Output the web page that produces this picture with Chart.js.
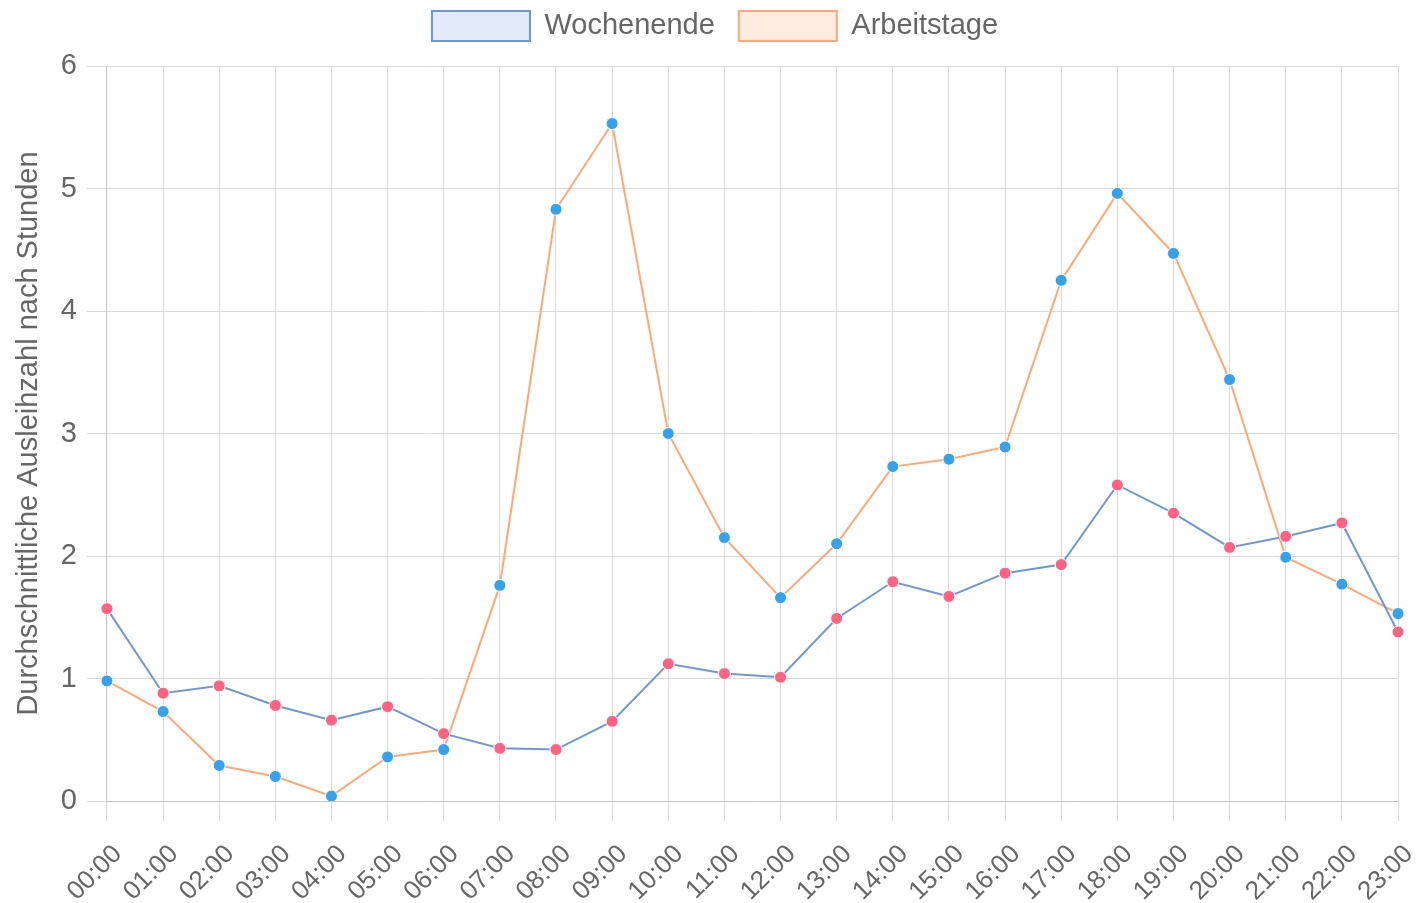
<!DOCTYPE html>
<html lang="de">
<head>
    <meta charset="UTF-8">
    <title>Ausleihen nach Stunden</title>
    <script src="https://cdn.jsdelivr.net/npm/chart.js"></script>
    <style>
        html, body {
            margin: 0;
            padding: 0;
            background: #ffffff;
        }
        .chart-box {
            width: 1422px;
            height: 903px;
        }
    </style>
</head>
<body>
    <div class="chart-box">
        <canvas id="hourChart"></canvas>
    </div>

    <script>
        const hours = ['00:00', '01:00', '02:00', '03:00', '04:00', '05:00', '06:00', '07:00',
            '08:00', '09:00', '10:00', '11:00', '12:00', '13:00', '14:00', '15:00',
            '16:00', '17:00', '18:00', '19:00', '20:00', '21:00', '22:00', '23:00'];
        const wochenende = [1.57, 0.88, 0.94, 0.78, 0.66, 0.77, 0.55, 0.43, 0.42, 0.65, 1.12, 1.04,
            1.01, 1.49, 1.79, 1.67, 1.86, 1.93, 2.58, 2.35, 2.07, 2.16, 2.27, 1.38];
        const arbeitstage = [0.98, 0.73, 0.29, 0.20, 0.04, 0.36, 0.42, 1.76, 4.83, 5.53, 3.00, 2.15,
            1.66, 2.10, 2.73, 2.79, 2.89, 4.25, 4.96, 4.47, 3.44, 1.99, 1.77, 1.53];

        Chart.defaults.font.family = "'Liberation Sans', Arial, sans-serif";
        Chart.defaults.font.size = 29;
        Chart.defaults.color = '#666';

        // a bit more room under the legend
        const legendGap = {
            id: 'legendGap',
            beforeInit(chart) {
                const origFit = chart.legend.fit;
                chart.legend.fit = function () {
                    origFit.bind(chart.legend)();
                    this.height += 15;
                };
            }
        };

        const ctx = document.getElementById('hourChart').getContext('2d');
        new Chart(ctx, {
            type: 'line',
            data: {
                labels: hours,
                datasets: [{
                    label: 'Wochenende',
                    data: wochenende,
                    borderColor: '#6f98d2',
                    backgroundColor: 'rgba(130, 165, 225, 0.22)',
                    borderWidth: 2,
                    fill: false,
                    tension: 0,
                    pointRadius: 6,
                    pointBorderWidth: 1,
                    pointBorderColor: '#fff',
                    pointBackgroundColor: '#ff6384'
                }, {
                    label: 'Arbeitstage',
                    data: arbeitstage,
                    borderColor: '#ffa775',
                    backgroundColor: 'rgba(255, 170, 120, 0.22)',
                    borderWidth: 2,
                    fill: false,
                    tension: 0,
                    pointRadius: 6,
                    pointBorderWidth: 1,
                    pointBorderColor: '#fff',
                    pointBackgroundColor: '#36a2eb'
                }]
            },
            options: {
                responsive: true,
                maintainAspectRatio: false,
                animation: false,
                layout: {
                    padding: { top: -13, left: 8 }
                },
                plugins: {
                    legend: {
                        labels: {
                            boxWidth: 98,
                            boxHeight: 30,
                            padding: 24,
                            useBorderRadius: false
                        }
                    },
                    tooltip: { enabled: false }
                },
                scales: {
                    y: {
                        min: 0,
                        max: 6,
                        ticks: { stepSize: 1, padding: 10 },
                        grid: { color: '#dadada', tickLength: 20 },
                        title: {
                            display: true,
                            text: 'Durchschnittliche Ausleihzahl nach Stunden'
                        }
                    },
                    x: {
                        ticks: {
                            minRotation: 45,
                            maxRotation: 45,
                            padding: 18,
                            labelOffset: 11,
                            font: { size: 26 }
                        },
                        grid: { color: '#dadada', tickLength: 20 },
                        afterFit(scale) {
                            scale.height = 102;
                            scale.paddingRight = 24;
                        }
                    }
                }
            },
            plugins: [legendGap]
        });
    </script>
</body>
</html>
